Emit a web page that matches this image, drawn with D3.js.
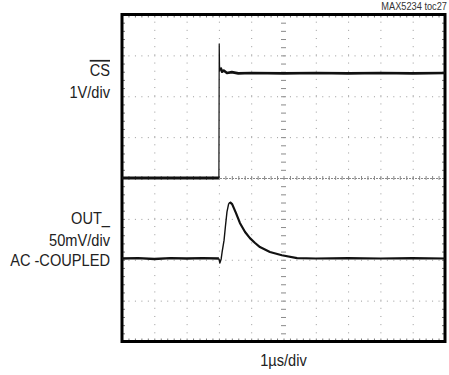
<!DOCTYPE html>
<html>
<head>
<meta charset="utf-8">
<script src="https://cdn.jsdelivr.net/npm/d3@7/dist/d3.min.js"></script>
<style>
  body { margin: 0; background: #fff; }
  svg text { font-family: "Liberation Sans Narrow", "Arial Narrow", "Liberation Sans", sans-serif; fill: #222; }
</style>
</head>
<body>
<svg id="chart" width="449" height="375"></svg>
<script>
// scope screen: 10 horizontal divisions, 8 vertical divisions (center = 0)
const xDivs = [0, 1, 2, 3, 4, 5, 6, 7, 8, 9, 10];
const yDivs = [-4, -3, -2, -1, 0, 1, 2, 3, 4];

// CS trace (time in div, level in div)
const csLowT  = [0, 3.0];
const csLowV  = [0.0, 0.0];
const csEdgeT = [3.0, 3.01, 3.02, 3.03, 3.05];
const csEdgeV = [0.0, 3.28, 2.75, 2.62, 2.70];
const csHighT = [3.05, 3.1, 3.15, 3.25, 3.4, 3.6, 4.0, 5.0, 6.0, 7.0, 8.0, 9.0, 10.0];
const csHighV = [2.70, 2.60, 2.63, 2.57, 2.59, 2.56, 2.57, 2.56, 2.57, 2.56, 2.57, 2.56, 2.57];

// OUT_ trace (AC coupled)
const outBaseT = [0, 0.5, 1.0, 1.5, 2.0, 2.5, 3.0];
const outBaseV = [-1.97, -1.96, -1.98, -1.96, -1.97, -1.96, -1.97];
const outRiseT = [3.0, 3.03, 3.07, 3.1, 3.16, 3.2, 3.25, 3.3, 3.34];
const outRiseV = [-1.97, -2.08, -1.98, -1.81, -1.52, -1.2, -0.83, -0.64, -0.59];
const outDecayT = [3.34, 3.41, 3.53, 3.65, 3.81, 3.96, 4.12, 4.27, 4.58, 4.95, 5.42, 6.0, 7.0, 8.0, 9.0, 10.0];
const outDecayV = [-0.59, -0.64, -0.86, -1.10, -1.32, -1.47, -1.59, -1.69, -1.81, -1.89, -1.96, -1.97, -1.96, -1.97, -1.96, -1.97];

const svg = d3.select("#chart");
const plotL = 122, plotR = 445, plotT = 14.5, plotB = 341.5;

const x = d3.scaleLinear().domain([0, 10]).range([plotL, plotR]);
const y = d3.scaleLinear().domain([-4, 4]).range([plotB, plotT]);

const minorX = d3.range(0, 10.001, 0.2);
const minorY = d3.range(-4, 4.001, 0.2);
const pitchX = x(0.2) - x(0);
const pitchY = y(-4) - y(-3.8);

// dotted grid lines
const gx = svg.append("g")
    .attr("transform", "translate(0," + plotB + ")")
    .call(d3.axisBottom(x).tickValues(xDivs.filter(d => d !== 0 && d !== 5 && d !== 10))
      .tickSize(-(plotB - plotT)).tickFormat(""));
gx.select(".domain").remove();
gx.selectAll("line").attr("stroke", "#9a9a9a").attr("stroke-dasharray", "1," + (pitchY - 1));

const gy = svg.append("g")
    .attr("transform", "translate(" + plotL + ",0)")
    .call(d3.axisLeft(y).tickValues(yDivs.filter(d => d !== 0 && Math.abs(d) !== 4))
      .tickSize(-(plotR - plotL)).tickFormat(""));
gy.select(".domain").remove();
gy.selectAll("line").attr("stroke", "#9a9a9a").attr("stroke-dasharray", "1," + (pitchX - 1));

// center axes with minor ticks
const cx = svg.append("g")
    .attr("transform", "translate(0," + y(0) + ")")
    .call(d3.axisBottom(x).tickValues(minorX).tickSize(2).tickFormat(""));
cx.select(".domain").attr("stroke", "#8a8a8a").attr("stroke-dasharray", "2,1");
cx.selectAll(".tick line").attr("y1", -2).attr("stroke", "#8a8a8a");

const cy = svg.append("g")
    .attr("transform", "translate(" + x(5) + ",0)")
    .call(d3.axisLeft(y).tickValues(minorY).tickSize(2.5).tickFormat(""));
cy.select(".domain").remove();
cy.selectAll(".tick line").attr("x1", 2.5).attr("stroke", "#8a8a8a");

// minor ticks on the frame
const tickLen = 3;
[
  [d3.axisTop(x), "translate(0," + plotB + ")", minorX],
  [d3.axisBottom(x), "translate(0," + plotT + ")", minorX],
  [d3.axisRight(y), "translate(" + plotL + ",0)", minorY],
  [d3.axisLeft(y), "translate(" + plotR + ",0)", minorY]
].forEach(function(a) {
  const g = svg.append("g").attr("transform", a[1])
      .call(a[0].tickValues(a[2]).tickSize(tickLen).tickFormat(""));
  g.select(".domain").remove();
  g.selectAll("line").attr("stroke", "#777");
});

// frame
svg.append("rect")
    .attr("x", plotL).attr("y", plotT)
    .attr("width", plotR - plotL).attr("height", plotB - plotT)
    .attr("fill", "none").attr("stroke", "#000").attr("stroke-width", 3);

// traces
const line = d3.line().x(d => x(d[0])).y(d => y(d[1]));
function trace(ts, vs, w) {
  svg.append("path")
      .datum(d3.zip(ts, vs))
      .attr("d", line)
      .attr("fill", "none")
      .attr("stroke", "#111")
      .attr("stroke-width", w)
      .attr("stroke-linejoin", "round");
}
trace(csLowT, csLowV, 3);
trace(csEdgeT, csEdgeV, 1.2);
trace(csHighT, csHighV, 2.6);
trace(outBaseT, outBaseV, 2.4);
trace(outRiseT, outRiseV, 1.4);
trace(outDecayT, outDecayV, 2.2);

// labels (condensed look)
function label(tx, ty, txt, size, anchor, sx) {
  return svg.append("text")
      .attr("transform", "translate(" + tx + "," + ty + ") scale(" + sx + ",1)")
      .attr("text-anchor", anchor)
      .style("font-size", size + "px")
      .text(txt);
}
label(447, 10, "MAX5234 toc27", 10.5, "end", 0.88).style("fill", "#333");

const labelX = 110;
label(labelX, 76, "CS", 17, "end", 0.86).style("text-decoration", "overline");
label(labelX, 98, "1V/div", 17, "end", 0.86);
label(labelX, 224, "OUT_", 17, "end", 0.86);
label(labelX, 246, "50mV/div", 17, "end", 0.86);
label(labelX, 266, "AC -COUPLED", 17, "end", 0.86);
label(x(5), 366, "1\u00b5s/div", 17, "middle", 0.86);
</script>
</body>
</html>
